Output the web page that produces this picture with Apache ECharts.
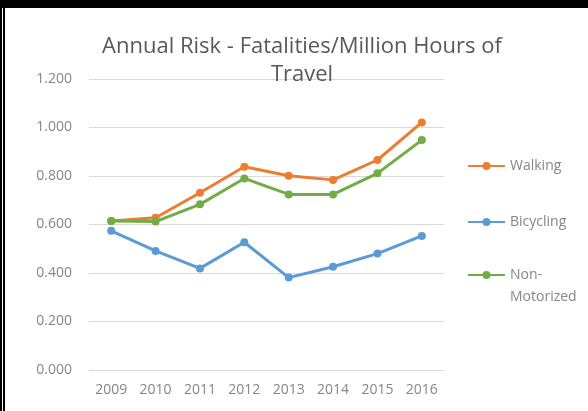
<!DOCTYPE html>
<html>
<head>
<meta charset="utf-8">
<script src="https://cdn.jsdelivr.net/npm/echarts@6/dist/echarts.min.js"></script>
<style>
  html, body { margin: 0; padding: 0; background: #fff; }
  #wrap { position: relative; width: 588px; height: 411px; overflow: hidden; }
  #chart { position: absolute; left: 0; top: 0; width: 588px; height: 411px; }
  .edge { position: absolute; background: #000; z-index: 2; }
</style>
</head>
<body>
<div id="wrap">
  <div id="chart"></div>
  <div class="edge" style="left:0;top:0;width:588px;height:8px;"></div>
  <div class="edge" style="left:0;top:0;width:2px;height:411px;"></div>
  <div class="edge" style="left:3px;top:0;width:2px;height:411px;"></div>
</div>
<script>
// Fatalities per million hours of travel, by year and mode
const years = ['2009', '2010', '2011', '2012', '2013', '2014', '2015', '2016'];
const walking = [0.614, 0.628, 0.731, 0.838, 0.801, 0.784, 0.866, 1.021];
const bicycling = [0.574, 0.491, 0.419, 0.527, 0.381, 0.426, 0.480, 0.553];
const nonMotorized = [0.614, 0.612, 0.683, 0.790, 0.724, 0.724, 0.811, 0.948];
const yTicks = { min: 0, max: 1.2, interval: 0.2 };

const FONT = 'Open Sans';
const labelColor = '#868686';

function lineSeries(name, values, color) {
  return {
    name: name,
    type: 'line',
    data: values,
    symbol: 'circle',
    symbolSize: 8,
    lineStyle: { color: color, width: 3 },
    itemStyle: { color: color },
    emphasis: { disabled: true },
    animation: false
  };
}

// one legend block per series, stacked down the right side
function legendFor(name, top) {
  return {
    data: [name],
    left: 467,
    top: top,
    orient: 'vertical',
    itemWidth: 37,
    itemHeight: 10,
    itemGap: 0,
    padding: 0,
    selectedMode: false,
    // blank first line keeps "Non-" level with the marker
    formatter: function (n) { return n === 'Non-Motorized' ? ' \nNon-\nMotorized' : n; },
    textStyle: { color: labelColor, fontFamily: FONT, fontSize: 14, lineHeight: 22 }
  };
}

const chart = echarts.init(document.getElementById('chart'), null, { renderer: 'canvas' });
chart.setOption({
  backgroundColor: '#fff',
  animation: false,
  title: {
    text: 'Annual Risk - Fatalities/Million Hours of\nTravel',
    left: 302,
    top: 33,
    padding: 0,
    textAlign: 'center',
    textStyle: { color: '#595959', fontFamily: FONT, fontSize: 22, fontWeight: 'normal', lineHeight: 28 }
  },
  legend: [
    legendFor('Walking', 155),
    legendFor('Bicycling', 211),
    legendFor('Non-Motorized', 242)
  ],
  grid: { left: 89, right: 144, top: 79, bottom: 41 },
  xAxis: {
    type: 'category',
    data: years,
    boundaryGap: true,
    axisLine: { show: true, lineStyle: { color: '#d9d9d9', width: 1 } },
    axisTick: { show: false },
    axisLabel: { color: labelColor, fontFamily: FONT, fontSize: 14, margin: 13 }
  },
  yAxis: {
    type: 'value',
    min: yTicks.min,
    max: yTicks.max,
    interval: yTicks.interval,
    axisLine: { show: false },
    axisTick: { show: false },
    splitLine: { lineStyle: { color: '#d9d9d9', width: 1 } },
    axisLabel: {
      color: labelColor, fontFamily: FONT, fontSize: 14, margin: 17,
      formatter: function (v) { return v.toFixed(3); }
    }
  },
  series: [
    lineSeries('Walking', walking, '#ED7D31'),
    lineSeries('Bicycling', bicycling, '#5B9BD5'),
    lineSeries('Non-Motorized', nonMotorized, '#70AD47')
  ]
});
</script>
</body>
</html>
